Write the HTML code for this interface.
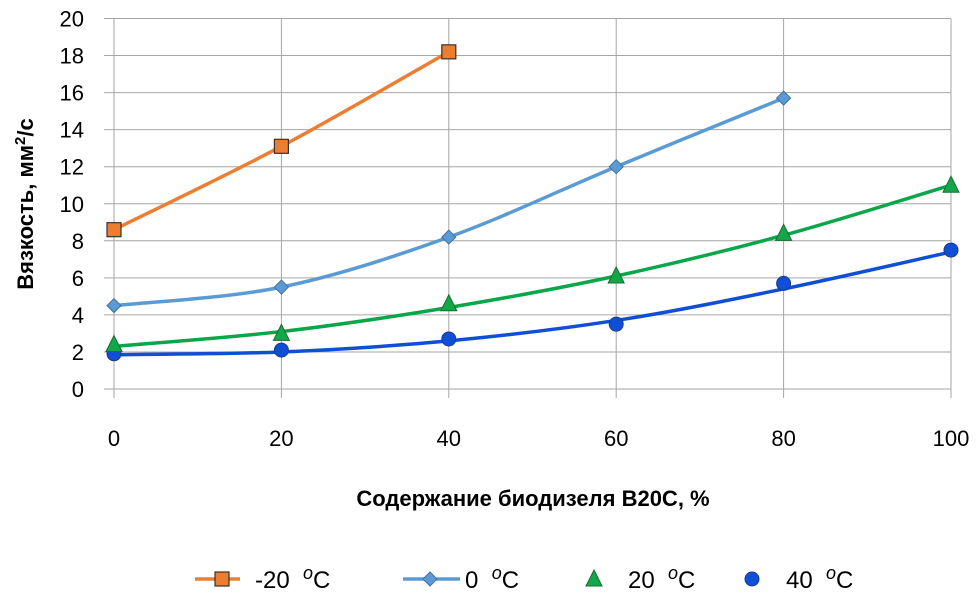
<!DOCTYPE html>
<html><head><meta charset="utf-8"><style>
body{margin:0;background:#fff;}
svg{display:block;font-family:"Liberation Sans","DejaVu Sans",sans-serif;}
</style></head><body>
<svg id="c" width="980" height="602" viewBox="0 0 980 602"></svg>
<script>
const categories=[0,20,40,60,80,100];
const yTicks=[0,2,4,6,8,10,12,14,16,18,20];
const sM20=[8.6,13.1,18.2];
const s0=[4.5,5.5,8.2,12.0,15.7];
const s20=[2.4,3.0,4.6,6.1,8.4,11.0];
const s40=[1.9,2.1,2.7,3.5,5.7,7.5];
const trend20=[2.3,3.1,4.4,6.1,8.3,11.0];
const trend40=[1.85,2.0,2.6,3.7,5.4,7.4];
const NS='http://www.w3.org/2000/svg';
const svg=document.getElementById('c');
const X=v=>114+(v/100)*837;
const Y=v=>389-(v/20)*370.5;
function mk(t,a,p){const e=document.createElementNS(NS,t);for(const k in a)e.setAttribute(k,a[k]);(p||svg).appendChild(e);return e;}
const g=mk('g',{});


yTicks.forEach(v=>{mk('line',{x1:104,x2:951,y1:Y(v),y2:Y(v),stroke:'#a6a6a6','stroke-width':1},g);
 const t=mk('text',{x:84,y:Y(v)+8,'text-anchor':'end','font-size':22,fill:'#000'});t.textContent=v;
 });
categories.forEach(v=>{mk('line',{x1:X(v),x2:X(v),y1:Y(20),y2:398,stroke:'#a6a6a6','stroke-width':1},g);
 const t=mk('text',{x:X(v),y:446,'text-anchor':'middle','font-size':22,fill:'#000'});t.textContent=v;
 });
function path(vals){const p=vals.map((v,i)=>[X(categories[i]),Y(v)]);let d='M'+p[0][0]+','+p[0][1];
 for(let i=0;i<p.length-1;i++){const p0=p[i-1]||p[i],p1=p[i],p2=p[i+1],p3=p[i+2]||p2;
  const c1=[p1[0]+(p2[0]-p0[0])/6,p1[1]+(p2[1]-p0[1])/6],c2=[p2[0]-(p3[0]-p1[0])/6,p2[1]-(p3[1]-p1[1])/6];
  d+=' C'+c1+' '+c2+' '+p2;}return d;}
function line(vals,col,name){const e=mk('path',{d:path(vals),fill:'none',stroke:col,'stroke-width':3.5});
 }
line(trend40,'#0e4fd6','trend-40c');
line(trend20,'#0aa64a','trend-20c');
line(s0,'#5b9bd5','line-0c');
line(sM20,'#ed7d31','line-minus20c');
function marker(type,x,y,fill,stroke,p){let e;
 if(type==='sq')e=mk('rect',{x:x-7,y:y-7,width:14,height:14,fill,stroke,'stroke-width':1.2},p);
 else if(type==='dia')e=mk('polygon',{points:`${x},${y-7} ${x+7},${y} ${x},${y+7} ${x-7},${y}`,fill,stroke,'stroke-width':1},p);
 else if(type==='tri')e=mk('polygon',{points:`${x},${y-9} ${x+8},${y+7} ${x-8},${y+7}`,fill,stroke,'stroke-width':1},p);
 else e=mk('circle',{cx:x,cy:y,r:7,fill,stroke,'stroke-width':1},p);return e;}
function pts(vals,type,fill,stroke,name){vals.forEach((v,i)=>{const e=marker(type,X(categories[i]),Y(v),fill,stroke);
 });}
pts(s40,'circ','#0e4fd6','#1c3c8c','point-40c');
pts(s20,'tri','#12a84a','#1b6b33','point-20c');
pts(s0,'dia','#5b9bd5','#41729f','point-0c');
pts(sM20,'sq','#ed7d31','#333','point-minus20c');
let t=mk('text',{x:533,y:506,'text-anchor':'middle','font-size':22,'font-weight':'bold',fill:'#000'});
t.textContent='Содержание биодизеля В20С, %';
t=mk('text',{x:0,y:0,'text-anchor':'middle','font-size':22,'font-weight':'bold',fill:'#000',transform:'translate(33,204) rotate(-90)'});
t.innerHTML='Вязкость, мм<tspan font-size="15" dy="-8">2</tspan><tspan dy="8">/с</tspan>';

// [type, fill, stroke, lineColor, lineX1, lineX2, markerX, textX, label]
const leg=[['sq','#ed7d31','#333','#ed7d31',195,240,222,255,'-20'],['dia','#5b9bd5','#41729f','#5b9bd5',403,460,430,465,'0'],['tri','#12a84a','#1b6b33',null,0,0,594,628,'20'],['circ','#0e4fd6','#1c3c8c',null,0,0,752,786,'40']];
leg.forEach(l=>{const lg=mk('g',{});
 const y=579;
 if(l[3])mk('line',{x1:l[4],x2:l[5],y1:y,y2:y,stroke:l[3],'stroke-width':3.5},lg);
 marker(l[0],l[6],y,l[1],l[2],lg);
 const tt=mk('text',{x:l[7],y:y+9,'font-size':24,fill:'#000'},lg);
 tt.innerHTML=l[8]+'\u00a0 <tspan font-style="italic" font-size="18" dy="-9">o</tspan><tspan dy="9">C</tspan>';});
</script>
</body></html>
